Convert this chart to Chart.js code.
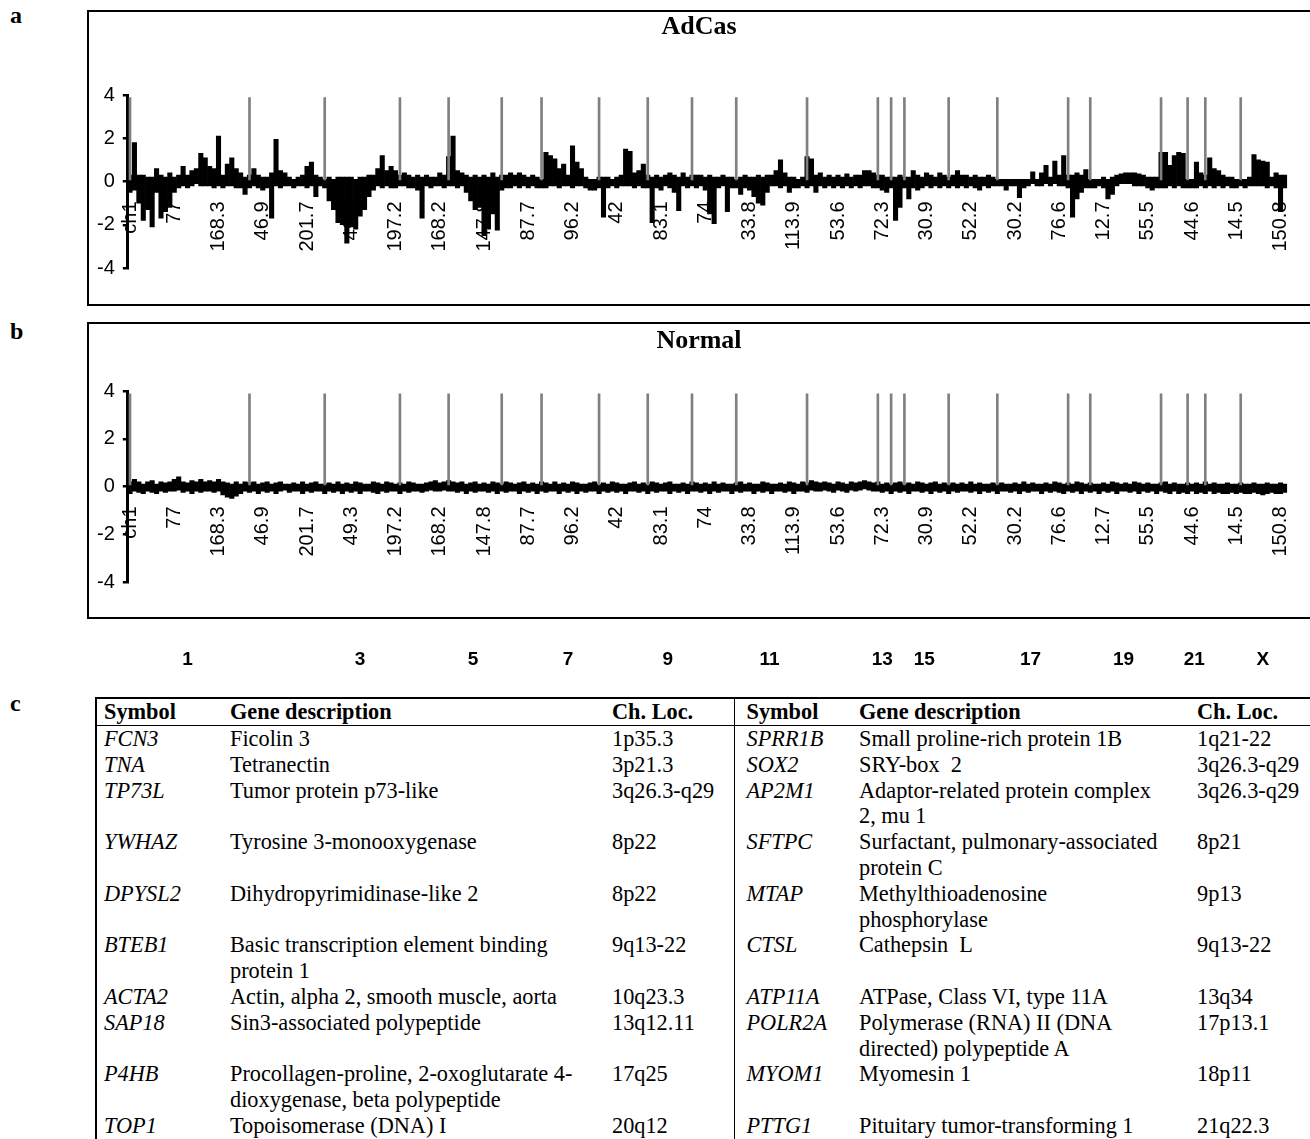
<!DOCTYPE html>
<html>
<head>
<meta charset="utf-8">
<script src="https://cdn.jsdelivr.net/npm/chart.js@4.4.1/dist/chart.umd.min.js"></script>
<style>
  body { margin: 0; width: 1310px; height: 1139px; overflow: hidden; background: #fff; position: relative; }
  .letter { position: absolute; left: 10px; font: bold 24px/24px "Liberation Serif", "Times New Roman", serif; }
  .title { position: absolute; left: 87px; width: 1224px; text-align: center; font: bold 26px/30px "Liberation Serif", "Times New Roman", serif; }
  .box { position: absolute; left: 87px; width: 1240px; border: 2.5px solid #000; box-sizing: border-box; pointer-events: none; }
  canvas { position: absolute; }
  #genes { position: absolute; left: 95px; top: 697px; width: 1240px; border-collapse: collapse; table-layout: fixed;
           font: 22.3px/25.8px "Liberation Serif", "Times New Roman", serif; border-top: 2px solid #000; border-left: 2px solid #000; }
  #genes td, #genes th { padding: 0; vertical-align: top; text-align: left; white-space: nowrap; }
  #genes th { font-weight: bold; height: 26px; border-bottom: 1.5px solid #000; vertical-align: middle; }
  #genes .sym { font-style: italic; }
  #genes .c1 { padding-left: 7px; }
  #genes .c4 { padding-left: 12px; }
  #genes .c3 { border-right: 1.5px solid #000; }
</style>
</head>
<body>
<div class="letter" style="top:3px">a</div>
<div class="letter" style="top:319px">b</div>
<div class="letter" style="top:691px">c</div>

<canvas id="chart-adcas" width="1234" height="295" style="left:87px;top:10px"></canvas>
<canvas id="chart-normal" width="1234" height="358" style="left:87px;top:322px"></canvas>
<div class="title" style="top:11px">AdCas</div>
<div class="title" style="top:325px">Normal</div>
<div class="box" style="top:10px;height:296px"></div>
<div class="box" style="top:322px;height:297px"></div>

<table id="genes">
  <colgroup><col style="width:134px"><col style="width:382px"><col style="width:122px"><col style="width:125px"><col style="width:338px"><col style="width:139px"></colgroup>
  <tr><th class="c1">Symbol</th><th>Gene description</th><th class="c3">Ch. Loc.</th><th class="c4">Symbol</th><th>Gene description</th><th>Ch. Loc.</th></tr>
  <tr><td class="c1 sym">FCN3</td><td>Ficolin 3</td><td class="c3">1p35.3</td><td class="c4 sym">SPRR1B</td><td>Small proline-rich protein 1B</td><td>1q21-22</td></tr>
  <tr><td class="c1 sym">TNA</td><td>Tetranectin</td><td class="c3">3p21.3</td><td class="c4 sym">SOX2</td><td>SRY-box&nbsp; 2</td><td>3q26.3-q29</td></tr>
  <tr><td class="c1 sym">TP73L</td><td>Tumor protein p73-like</td><td class="c3">3q26.3-q29</td><td class="c4 sym">AP2M1</td><td>Adaptor-related protein complex<br>2, mu 1</td><td>3q26.3-q29</td></tr>
  <tr><td class="c1 sym">YWHAZ</td><td>Tyrosine 3-monooxygenase</td><td class="c3">8p22</td><td class="c4 sym">SFTPC</td><td>Surfactant, pulmonary-associated<br>protein C</td><td>8p21</td></tr>
  <tr><td class="c1 sym">DPYSL2</td><td>Dihydropyrimidinase-like 2</td><td class="c3">8p22</td><td class="c4 sym">MTAP</td><td>Methylthioadenosine<br>phosphorylase</td><td>9p13</td></tr>
  <tr><td class="c1 sym">BTEB1</td><td>Basic transcription element binding<br>protein 1</td><td class="c3">9q13-22</td><td class="c4 sym">CTSL</td><td>Cathepsin&nbsp; L</td><td>9q13-22</td></tr>
  <tr><td class="c1 sym">ACTA2</td><td>Actin, alpha 2, smooth muscle, aorta</td><td class="c3">10q23.3</td><td class="c4 sym">ATP11A</td><td>ATPase, Class VI, type 11A</td><td>13q34</td></tr>
  <tr><td class="c1 sym">SAP18</td><td>Sin3-associated polypeptide</td><td class="c3">13q12.11</td><td class="c4 sym">POLR2A</td><td>Polymerase (RNA) II (DNA<br>directed) polypeptide A</td><td>17p13.1</td></tr>
  <tr><td class="c1 sym">P4HB</td><td>Procollagen-proline, 2-oxoglutarate 4-<br>dioxygenase, beta polypeptide</td><td class="c3">17q25</td><td class="c4 sym">MYOM1</td><td>Myomesin 1</td><td>18p11</td></tr>
  <tr><td class="c1 sym">TOP1</td><td>Topoisomerase (DNA) I</td><td class="c3">20q12</td><td class="c4 sym">PTTG1</td><td>Pituitary tumor-transforming 1</td><td>21q22.3</td></tr>
</table>

<script>
// Genome is binned into 262 ordered positions; every 10th bin carries a position label
const LABEL_STEP = 10;
const posLabels = ['ch1', '77', '168.3', '46.9', '201.7', '49.3', '197.2', '168.2', '147.8', '87.7',
                   '96.2', '42', '83.1', '74', '33.8', '113.9', '53.6', '72.3', '30.9', '52.2',
                   '30.2', '76.6', '12.7', '55.5', '44.6', '14.5', '150.8'];

const chromNames  = ['1','2','3','4','5','6','7','8','9','10','11','12','13','14','15','16','17','18','19','20','21','22','X'];
const chromStarts = [0, 27, 44, 61, 72, 84, 93, 106, 117, 127, 137, 153, 169, 172, 175, 185, 196, 212, 217, 233, 239, 243, 251];
const shownChroms = ['1','3','5','7','9','11','13','15','17','19','21','X'];
const sepValue    = 3.9;   // height of the grey chromosome separators

// AdCas: per-bin max / min log ratio
const adcasHigh = [
  0.3, 1.8, 0.3, 0.3, 0.2, 0.2, 0.6, 0.3, 0.2, 0.4,
  0.2, 0.3, 0.7, 0.3, 0.5, 0.6, 1.3, 1.1, 0.7, 0.6,
  2.1, 0.3, 0.8, 1.1, 0.6, 0.4, 0.2, 0.3, 0.6, 0.3,
  0.2, 0.2, 0.4, 1.95, 0.5, 0.4, 0.2, 0.1, 0.2, 0.3,
  0.7, 0.9, 0.3, 0.2, 0.1, 0.2, 0.1, 0.2, 0.2, 0.2,
  0.2, 0.1, 0.2, 0.2, 0.3, 0.3, 0.6, 1.2, 0.5, 0.7,
  0.5, 0.3, 0.4, 0.3, 0.2, 0.3, 0.2, 0.3, 0.2, 0.2,
  0.4, 0.3, 1.15, 2.1, 0.5, 0.4, 0.3, 0.2, 0.3, 0.2,
  0.3, 0.2, 0.4, 0.2, 0.3, 0.3, 0.4, 0.3, 0.4, 0.3,
  0.2, 0.3, 0.2, 0.1, 1.35, 1.2, 1.05, 0.6, 0.8, 0.3,
  1.65, 0.9, 0.6, 0.2, 0.1, 0.1, 0.2, 0.2, 0.2, 0.1,
  0.2, 0.3, 1.5, 1.4, 0.4, 0.5, 0.8, 0.3, 0.2, 0.3,
  0.2, 0.3, 0.4, 0.3, 0.2, 0.4, 0.2, 0.3, 0.3, 0.3,
  0.2, 0.3, 0.2, 0.2, 0.3, 0.2, 0.2, 0.1, 0.2, 0.3,
  0.2, 0.2, 0.3, 0.2, 0.3, 0.3, 0.5, 1.0, 0.4, 0.2,
  0.2, 0.1, 0.2, 1.15, 1.05, 0.3, 0.4, 0.2, 0.3, 0.2,
  0.3, 0.2, 0.35, 0.2, 0.3, 0.3, 0.5, 0.5, 0.4, 0.3,
  0.3, 0.2, 0.2, 0.2, 0.3, 0.2, 0.2, 0.5, 0.3, 0.2,
  0.4, 0.3, 0.2, 0.4, 0.3, 0.2, 0.3, 0.5, 0.3, 0.3,
  0.2, 0.3, 0.2, 0.2, 0.3, 0.2, 0.1, 0.1, 0.1, 0.1,
  0.1, 0.1, 0.1, 0.1, 0.45, 0.1, 0.4, 0.75, 0.2, 0.95,
  0.3, 1.2, 0.3, 0.3, 0.4, 0.3, 0.55, 0.1, 0.1, 0.1,
  0.2, 0.1, 0.2, 0.3, 0.35, 0.4, 0.4, 0.4, 0.35, 0.3,
  0.2, 0.2, 0.2, 1.35, 1.35, 0.75, 1.2, 1.35, 1.3, 0.1,
  0.1, 0.9, 0.4, 0.3, 1.1, 0.6, 0.5, 0.3, 0.2, 0.2,
  0.1, 0.1, 0.1, 0.2, 1.25, 1.0, 0.95, 0.9, 0.2, 0.4,
  0.3, 0.3
];
const adcasLow = [
  -0.5, -0.4, -1.0, -1.8, -1.3, -2.1, -0.5, -1.7, -1.4, -1.2,
  -0.5, -0.3, -0.2, -0.3, -0.2, -0.1, -0.2, -0.2, -0.2, -0.3,
  -0.2, -0.3, -0.2, -0.2, -0.3, -0.3, -0.6, -0.3, -0.2, -0.3,
  -0.4, -0.3, -1.7, -0.2, -0.3, -0.2, -0.2, -0.3, -0.2, -0.2,
  -0.3, -0.2, -0.7, -0.2, -0.3, -0.9, -1.3, -1.9, -2.0, -2.85,
  -2.1, -2.2, -1.6, -1.3, -0.7, -0.4, -0.2, -0.3, -0.2, -0.3,
  -0.3, -0.2, -0.2, -0.3, -0.3, -0.4, -1.7, -0.2, -0.3, -0.2,
  -0.2, -0.3, -0.2, -0.2, -0.3, -0.2, -0.5, -0.9, -1.3, -1.2,
  -2.5, -2.2, -1.5, -2.25, -0.4, -0.3, -0.3, -0.2, -0.3, -0.2,
  -0.3, -0.2, -0.3, -0.3, -0.3, -0.2, -0.2, -0.3, -0.2, -0.2,
  -0.3, -0.2, -0.2, -0.3, -0.4, -0.4, -0.3, -1.65, -0.3, -0.2,
  -0.3, -0.2, -0.2, -0.2, -0.3, -0.2, -0.3, -0.3, -1.9, -0.3,
  -0.4, -0.2, -0.3, -0.5, -1.35, -0.2, -0.3, -0.2, -0.3, -0.2,
  -0.4, -1.5, -1.95, -0.3, -0.2, -1.4, -0.3, -0.3, -0.6, -0.3,
  -0.4, -0.7, -1.0, -1.1, -0.5, -0.2, -0.2, -0.3, -0.2, -0.5,
  -0.3, -0.3, -0.2, -0.3, -0.2, -0.5, -0.2, -0.3, -0.2, -0.3,
  -0.2, -0.3, -0.2, -0.3, -0.2, -0.3, -0.2, -0.2, -0.3, -0.3,
  -0.4, -0.5, -0.3, -1.8, -1.2, -0.3, -0.8, -0.3, -0.4, -0.3,
  -0.2, -0.3, -0.2, -0.3, -0.2, -0.3, -0.2, -0.3, -0.2, -0.3,
  -0.2, -0.3, -0.4, -0.2, -0.3, -0.2, -0.2, -0.2, -0.4, -0.2,
  -0.2, -0.75, -0.3, -0.2, -0.1, -0.2, -0.2, -0.1, -0.2, -0.1,
  -0.2, -0.2, -0.3, -1.65, -0.8, -0.5, -0.3, -0.3, -0.3, -0.2,
  -0.3, -0.8, -0.6, -0.2, -0.1, -0.1, -0.1, -0.2, -0.2, -0.2,
  -0.3, -0.4, -0.3, -0.3, -0.3, -0.2, -0.3, -0.2, -0.3, -0.3,
  -0.3, -0.3, -0.2, -0.3, -0.2, -0.3, -0.2, -0.3, -0.2, -0.3,
  -0.3, -0.2, -0.3, -0.2, -0.2, -0.2, -0.2, -0.3, -0.2, -0.3,
  -1.4, -0.3
];

// Normal: per-bin max / min log ratio
const normalHigh = [
  0.2, 0.3, 0.2, 0.1, 0.2, 0.25, 0.1, 0.2, 0.15, 0.2,
  0.3, 0.4, 0.2, 0.15, 0.25, 0.2, 0.3, 0.2, 0.25, 0.2,
  0.3, 0.2, 0.15, 0.1, 0.2, 0.1, 0.2, 0.15, 0.2, 0.1,
  0.15, 0.2, 0.1, 0.15, 0.2, 0.1, 0.1, 0.15, 0.1, 0.2,
  0.1, 0.15, 0.2, 0.1, 0.1, 0.15, 0.1, 0.2, 0.1, 0.15,
  0.1, 0.2, 0.15, 0.1, 0.1, 0.2, 0.15, 0.1, 0.2, 0.15,
  0.1, 0.15, 0.1, 0.2, 0.15, 0.1, 0.1, 0.15, 0.2, 0.25,
  0.15, 0.2, 0.25, 0.2, 0.15, 0.2, 0.1, 0.15, 0.2, 0.1,
  0.15, 0.1, 0.2, 0.15, 0.1, 0.2, 0.15, 0.1, 0.15, 0.2,
  0.1, 0.15, 0.1, 0.2, 0.15, 0.1, 0.2, 0.1, 0.15, 0.1,
  0.2, 0.15, 0.1, 0.1, 0.15, 0.2, 0.1, 0.15, 0.1, 0.2,
  0.15, 0.1, 0.1, 0.15, 0.2, 0.1, 0.15, 0.1, 0.2, 0.15,
  0.1, 0.15, 0.2, 0.1, 0.1, 0.15, 0.1, 0.2, 0.15, 0.1,
  0.15, 0.1, 0.2, 0.1, 0.15, 0.1, 0.1, 0.15, 0.2, 0.1,
  0.15, 0.1, 0.1, 0.2, 0.15, 0.1, 0.1, 0.15, 0.1, 0.2,
  0.15, 0.1, 0.2, 0.15, 0.25, 0.2, 0.15, 0.2, 0.15, 0.1,
  0.2, 0.15, 0.1, 0.2, 0.15, 0.2, 0.25, 0.2, 0.15, 0.2,
  0.1, 0.15, 0.1, 0.15, 0.2, 0.1, 0.15, 0.1, 0.2, 0.15,
  0.1, 0.15, 0.2, 0.1, 0.15, 0.1, 0.15, 0.1, 0.15, 0.1,
  0.2, 0.1, 0.15, 0.1, 0.1, 0.15, 0.1, 0.15, 0.1, 0.1,
  0.15, 0.1, 0.2, 0.1, 0.15, 0.1, 0.1, 0.15, 0.1, 0.2,
  0.15, 0.1, 0.15, 0.1, 0.2, 0.15, 0.1, 0.15, 0.1, 0.1,
  0.15, 0.1, 0.2, 0.15, 0.1, 0.15, 0.1, 0.2, 0.15, 0.1,
  0.15, 0.1, 0.1, 0.15, 0.2, 0.1, 0.15, 0.1, 0.1, 0.15,
  0.1, 0.15, 0.1, 0.2, 0.1, 0.15, 0.1, 0.1, 0.15, 0.1,
  0.1, 0.15, 0.1, 0.1, 0.15, 0.1, 0.1, 0.15, 0.1, 0.1,
  0.15, 0.1
];
const normalLow = [
  -0.3, -0.2, -0.25, -0.3, -0.2, -0.25, -0.3, -0.2, -0.25, -0.2,
  -0.2, -0.15, -0.25, -0.2, -0.3, -0.2, -0.25, -0.2, -0.2, -0.25,
  -0.2, -0.35, -0.45, -0.5, -0.4, -0.3, -0.2, -0.25, -0.2, -0.3,
  -0.2, -0.25, -0.2, -0.3, -0.2, -0.15, -0.25, -0.2, -0.2, -0.3,
  -0.2, -0.25, -0.2, -0.2, -0.3, -0.2, -0.25, -0.2, -0.3, -0.2,
  -0.25, -0.2, -0.3, -0.2, -0.2, -0.25, -0.3, -0.2, -0.25, -0.2,
  -0.2, -0.3, -0.2, -0.25, -0.2, -0.2, -0.25, -0.2, -0.15, -0.2,
  -0.2, -0.15, -0.2, -0.2, -0.25, -0.2, -0.3, -0.2, -0.25, -0.2,
  -0.2, -0.25, -0.2, -0.3, -0.2, -0.25, -0.2, -0.2, -0.3, -0.2,
  -0.25, -0.2, -0.3, -0.2, -0.25, -0.2, -0.2, -0.3, -0.2, -0.25,
  -0.2, -0.3, -0.2, -0.25, -0.2, -0.2, -0.3, -0.2, -0.25, -0.2,
  -0.25, -0.2, -0.3, -0.2, -0.2, -0.25, -0.2, -0.3, -0.2, -0.25,
  -0.2, -0.2, -0.3, -0.2, -0.25, -0.2, -0.3, -0.2, -0.2, -0.25,
  -0.2, -0.3, -0.2, -0.25, -0.2, -0.2, -0.3, -0.2, -0.25, -0.2,
  -0.2, -0.3, -0.2, -0.25, -0.2, -0.3, -0.2, -0.2, -0.25, -0.2,
  -0.3, -0.2, -0.2, -0.25, -0.15, -0.2, -0.2, -0.15, -0.2, -0.25,
  -0.15, -0.2, -0.25, -0.15, -0.2, -0.15, -0.1, -0.15, -0.2, -0.2,
  -0.25, -0.2, -0.3, -0.2, -0.25, -0.2, -0.3, -0.2, -0.2, -0.25,
  -0.2, -0.3, -0.2, -0.25, -0.2, -0.3, -0.2, -0.25, -0.2, -0.2,
  -0.25, -0.2, -0.3, -0.2, -0.25, -0.2, -0.3, -0.2, -0.2, -0.25,
  -0.2, -0.3, -0.2, -0.25, -0.2, -0.2, -0.3, -0.2, -0.25, -0.2,
  -0.25, -0.3, -0.2, -0.25, -0.2, -0.3, -0.2, -0.25, -0.2, -0.3,
  -0.2, -0.25, -0.2, -0.3, -0.2, -0.2, -0.25, -0.2, -0.3, -0.2,
  -0.25, -0.2, -0.3, -0.2, -0.25, -0.3, -0.2, -0.3, -0.25, -0.3,
  -0.2, -0.3, -0.25, -0.3, -0.2, -0.3, -0.25, -0.3, -0.3, -0.25,
  -0.3, -0.25, -0.3, -0.3, -0.25, -0.3, -0.35, -0.3, -0.25, -0.3,
  -0.3, -0.25
];

const N = adcasHigh.length;
const FONT = 'Arial, "Liberation Sans", sans-serif';
Chart.defaults.font.family = FONT;
Chart.defaults.color = '#000';

const labels = Array.from({ length: N }, (_, i) => i % LABEL_STEP === 0 ? posLabels[i / LABEL_STEP] : '');
const separators = Array.from({ length: N }, (_, i) => chromStarts.includes(i) ? sepValue : null);

// chromosome numbers under panel b, centred on each chromosome's bins
const chromLabels = {
    id: 'chromLabels',
    afterDraw(chart, args, opts) {
        if (!opts.y) return;
        const xs  = chart.scales.x;
        const ctx = chart.ctx;
        ctx.save();
        ctx.font = `bold 19px ${FONT}`;
        ctx.fillStyle = '#000';
        ctx.textAlign = 'center';
        ctx.textBaseline = 'middle';
        chromNames.forEach((name, k) => {
            if (!shownChroms.includes(name)) return;
            const first = chromStarts[k];
            const last  = (k + 1 < chromStarts.length ? chromStarts[k + 1] : N) - 1;
            ctx.fillText(name, (xs.getPixelForValue(first) + xs.getPixelForValue(last)) / 2, opts.y);
        });
        ctx.restore();
    },
};

function makeChart(id, high, low, pad, chromY) {
    return new Chart(document.getElementById(id), {
        type: 'bar',
        data: {
            labels,
            datasets: [
                {
                    data:               separators,
                    backgroundColor:    '#808080',
                    grouped:            false,
                    barPercentage:      0.6,
                    categoryPercentage: 1,
                    order:              0,
                },
                {
                    data:               low.map((v, i) => [v, high[i]]),
                    backgroundColor:    '#000',
                    grouped:            false,
                    barPercentage:      1,
                    categoryPercentage: 1,
                    order:              1,
                },
            ],
        },
        options: {
            responsive:       false,
            animation:        false,
            devicePixelRatio: 1,
            layout: { padding: pad },
            plugins: {
                legend:      { display: false },
                tooltip:     { enabled: false },
                chromLabels: { y: chromY },
            },
            scales: {
                x: {
                    position: { y: 0 },
                    grid:     { display: false },
                    border:   { display: false },
                    ticks:    { autoSkip: false, minRotation: 90, maxRotation: 90, padding: 12, color: '#000', font: { size: 20 } },
                },
                y: {
                    min: -4,
                    max: 4,
                    afterFit: s => { s.width = 40.8; },
                    grid:   { drawOnChartArea: false, drawTicks: true, tickLength: 5, color: '#000', lineWidth: 2.5 },
                    border: { display: true, color: '#000', width: 3 },
                    ticks:  { stepSize: 2, padding: 8, color: '#000', font: { size: 20 } },
                },
            },
        },
        plugins: [chromLabels],
    });
}

makeChart('chart-adcas',  adcasHigh,  adcasLow,  { left: 0, right: 21.5, top: 85, bottom: 37 }, null);
makeChart('chart-normal', normalHigh, normalLow, { left: 0, right: 21.5, top: 69, bottom: 98 }, 338);
</script>
</body>
</html>
